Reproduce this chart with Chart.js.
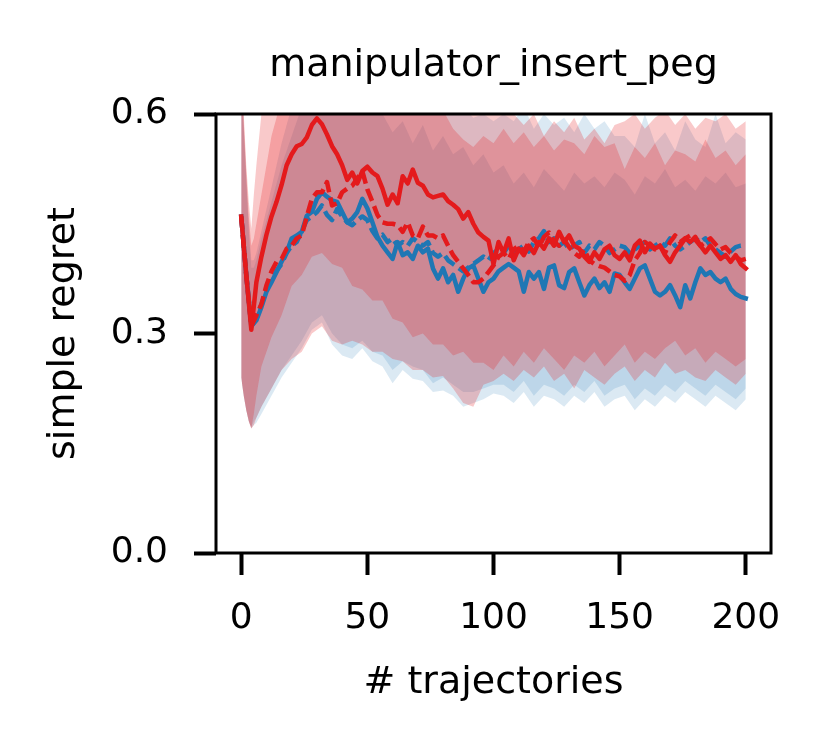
<!DOCTYPE html>
<html><head><meta charset="utf-8">
<script src="https://cdn.jsdelivr.net/npm/chart.js@4/dist/chart.umd.min.js"></script>
<style>html,body{margin:0;padding:0;background:#fff;} canvas{display:block;}</style>
</head><body>
<canvas id="c" width="830" height="747"></canvas>
<script>
// x positions of the mean curves (# trajectories)
const trajectories = [0,2,4,6,8,10,12,14,16,18,20,22,24,26,28,30,32,34,36,38,40,42,44,46,48,50,52,54,56,58,60,62,64,66,68,70,72,74,76,78,80,82,84,86,88,90,92,94,96,98,100,102,104,106,108,110,112,114,116,118,120,122,124,126,128,130,132,134,136,138,140,142,144,146,148,150,152,154,156,158,160,162,164,166,168,170,172,174,176,178,180,182,184,186,188,190,192,194,196,198,200];

const redSolid = [.46,.38,.305,.37,.405,.435,.46,.48,.503,.53,
.545,.556,.559,.568,.585,.594,.586,.572,.556,.545,
.53,.51,.52,.505,.522,.528,.52,.515,.498,.476,
.49,.478,.515,.505,.524,.506,.502,.49,.486,.488,
.49,.481,.476,.47,.457,.466,.45,.438,.432,.427,
.395,.425,.41,.43,.40,.416,.407,.42,.41,.425,
.416,.43,.42,.439,.425,.434,.42,.416,.405,.398,
.411,.402,.415,.42,.407,.402,.411,.40,.42,.427,
.411,.423,.416,.42,.407,.398,.411,.42,.43,.425,
.432,.42,.411,.42,.411,.402,.407,.398,.407,.395,
.389];

const redDashed = [.46,.38,.31,.325,.34,.366,.385,.398,.402,.416,
.42,.43,.434,.46,.484,.493,.493,.507,.475,.478,
.493,.498,.502,.512,.522,.497,.48,.462,.452,.45,
.45,.448,.439,.452,.434,.43,.446,.434,.434,.43,
.434,.42,.407,.398,.389,.38,.37,.37,.375,.384,
.393,.405,.41,.402,.415,.42,.412,.425,.43,.418,
.432,.438,.425,.42,.428,.418,.41,.405,.415,.40,
.395,.392,.39,.385,.38,.378,.372,.38,.40,.41,
.425,.42,.415,.42,.41,.425,.434,.425,.43,.434,
.428,.42,.425,.43,.422,.415,.418,.41,.405,.40,
.402];

const blueSolid = [.46,.38,.31,.318,.336,.357,.37,.384,.398,.411,
.43,.434,.439,.461,.466,.484,.493,.487,.482,.48,
.466,.452,.457,.466,.484,.471,.452,.432,.42,.411,
.402,.425,.407,.411,.402,.42,.411,.416,.389,.375,
.389,.37,.38,.357,.375,.389,.393,.375,.357,.37,
.375,.385,.39,.395,.39,.385,.357,.384,.375,.384,
.361,.39,.393,.366,.362,.384,.389,.37,.352,.366,
.375,.362,.37,.357,.382,.38,.37,.361,.375,.389,
.393,.375,.357,.352,.357,.366,.352,.336,.366,.348,
.37,.389,.38,.384,.375,.37,.375,.361,.354,.35,
.348];

const blueDashed = [.46,.38,.31,.32,.34,.36,.372,.386,.395,.41,
.42,.425,.44,.455,.46,.466,.475,.462,.455,.47,
.46,.452,.448,.455,.46,.455,.44,.43,.435,.425,
.43,.42,.425,.42,.43,.425,.42,.425,.41,.405,
.41,.40,.395,.39,.385,.39,.395,.40,.405,.40,
.41,.415,.41,.42,.41,.415,.42,.412,.425,.43,
.44,.425,.43,.42,.425,.415,.42,.425,.41,.42,
.415,.425,.42,.41,.415,.42,.418,.41,.415,.42,
.425,.415,.42,.425,.42,.43,.42,.415,.42,.425,
.43,.425,.43,.42,.415,.41,.405,.412,.418,.42,
.42];

// x positions of the shaded bands
const bandX = [0,1,2,3,4,5,6,8,12,16,20,24,28,32,36,40,44,48,52,56,60,64,68,72,76,80,84,88,92,96,100,104,108,112,116,120,124,128,132,136,140,144,148,152,156,160,164,168,172,176,180,184,188,192,196,200];

const redSolidUpper = [.70,.60,.53,.48,.443,.49,.53,.60,
.66,.68,.70,.72,.74,.75,.74,.72,.70,.70,.69,.68,.68,.67,.66,.66,.65,.65,.64,.64,.63,.63,.62,
.61,.60,.585,.60,.57,.59,.575,.595,.565,.58,.56,.585,.59,.60,.58,.595,.605,.585,.60,.58,.595,.59,.60,.58,.59];
const redSolidLower = [.24,.215,.195,.18,.17,.19,.215,.255,
.295,.325,.365,.38,.405,.41,.395,.39,.365,.36,.345,.345,.32,.315,.295,.30,.285,.285,.27,.275,.26,.26,.25,
.27,.255,.275,.26,.28,.265,.25,.27,.26,.275,.255,.27,.285,.26,.275,.265,.28,.29,.27,.28,.26,.275,.265,.255,.265];
const redDashedUpper = [.68,.59,.52,.46,.42,.43,.45,.49,
.57,.62,.65,.67,.68,.68,.67,.66,.65,.64,.64,.63,.62,.63,.61,.62,.61,.605,.58,.565,.555,.57,.56,
.58,.56,.575,.555,.57,.55,.565,.56,.545,.57,.555,.56,.525,.555,.54,.56,.53,.55,.545,.535,.565,.54,.55,.53,.545];
const redDashedLower = [.24,.215,.195,.18,.17,.175,.185,.20,
.225,.25,.265,.275,.30,.31,.29,.285,.29,.285,.275,.275,.265,.262,.25,.25,.24,.242,.225,.205,.20,.23,.235,
.245,.235,.25,.24,.255,.235,.245,.225,.25,.24,.23,.245,.255,.235,.25,.24,.26,.245,.25,.24,.235,.25,.24,.23,.245];
const blueDashedUpper = [.66,.585,.515,.45,.40,.40,.41,.44,
.50,.56,.61,.63,.65,.66,.66,.65,.64,.64,.63,.63,.62,.62,.615,.61,.61,.605,.60,.61,.595,.60,.59,
.60,.59,.61,.58,.60,.585,.595,.575,.60,.58,.59,.57,.57,.555,.60,.56,.575,.55,.59,.565,.555,.60,.56,.575,.565];
const blueDashedLower = [.24,.215,.195,.18,.172,.18,.185,.20,
.225,.25,.27,.29,.315,.325,.30,.285,.28,.29,.275,.27,.25,.262,.255,.25,.232,.24,.23,.22,.22,.225,.23,
.23,.22,.235,.215,.23,.225,.215,.23,.22,.235,.215,.225,.23,.21,.225,.215,.23,.22,.235,.225,.215,.23,.22,.21,.225];
const blueSolidUpper = [.65,.58,.51,.44,.39,.39,.40,.43,
.48,.53,.57,.61,.63,.64,.64,.63,.62,.61,.61,.60,.575,.59,.56,.585,.55,.57,.545,.555,.53,.545,.52,
.53,.505,.52,.50,.525,.51,.495,.52,.505,.515,.50,.52,.51,.49,.515,.505,.525,.50,.51,.495,.515,.505,.52,.50,.505];
const blueSolidLower = [.24,.215,.195,.18,.17,.175,.178,.19,
.215,.24,.26,.28,.305,.315,.285,.27,.265,.28,.262,.255,.232,.25,.238,.235,.22,.222,.215,.20,.205,.21,.218,
.215,.205,.22,.20,.215,.21,.20,.215,.205,.22,.20,.21,.215,.195,.21,.20,.215,.205,.22,.21,.20,.215,.205,.195,.21];

const xTicks = [0,50,100,150,200];
const yTicks = [0.0,0.3,0.6];

const FONT = "'DejaVu Sans', sans-serif";
Chart.defaults.font.family = FONT;
Chart.defaults.color = '#000';

const BLUE = '#1f77b4', RED = '#e41a1c';
const BLUE_FILL = 'rgba(31,119,180,0.16)', RED_FILL = 'rgba(228,26,28,0.234)';

function pts(xs, ys) { return xs.map((x, i) => ({x: x, y: ys[i]})); }

function band(upper, lower, color, order) {
  return [
    {data: pts(bandX, upper), fill: '+1', backgroundColor: color, borderColor: 'transparent', borderWidth: 0, pointRadius: 0, tension: 0, order: order},
    {data: pts(bandX, lower), fill: false, borderColor: 'transparent', borderWidth: 0, pointRadius: 0, tension: 0, order: order}
  ];
}
function line(ys, color, dashed, order) {
  return {data: pts(trajectories, ys), fill: false, borderColor: color, borderWidth: 4.5, pointRadius: 0, tension: 0,
          borderDash: dashed ? [13, 5.5] : [], borderCapStyle: dashed ? 'butt' : 'square', borderJoinStyle: 'round', order: order};
}

const datasets = [
  line(redDashed, RED, true, 0),
  line(redSolid, RED, false, 1),
  line(blueDashed, BLUE, true, 2),
  line(blueSolid, BLUE, false, 3),
  ...band(redDashedUpper, redDashedLower, RED_FILL, 4),
  ...band(redSolidUpper, redSolidLower, RED_FILL, 5),
  ...band(blueDashedUpper, blueDashedLower, BLUE_FILL, 6),
  ...band(blueSolidUpper, blueSolidLower, BLUE_FILL, 7)
];

const frame = {
  id: 'frame',
  afterDatasetsDraw(chart) {
    const {ctx, chartArea: a} = chart;
    ctx.save();
    ctx.strokeStyle = '#000';
    ctx.lineWidth = 3;
    ctx.strokeRect(a.left, a.top, a.right - a.left, a.bottom - a.top);
    ctx.restore();
  }
};

const gridOpts = {display: true, drawOnChartArea: false, drawTicks: true, tickLength: 22, tickWidth: 4, tickColor: '#000'};

new Chart(document.getElementById('c'), {
  type: 'line',
  data: {datasets: datasets},
  options: {
    responsive: false,
    animation: false,
    devicePixelRatio: 1,
    layout: {padding: {left: 0, right: 59, top: 0, bottom: 0}},
    plugins: {
      legend: {display: false},
      tooltip: {enabled: false},
      title: {display: true, text: 'manipulator_insert_peg', fullSize: false, color: '#000',
              font: {size: 38, weight: 'normal', family: FONT}, padding: {top: 43, bottom: 25.4}}
    },
    scales: {
      x: {
        type: 'linear', min: -10, max: 210,
        afterBuildTicks: s => { s.ticks = xTicks.map(v => ({value: v})); },
        afterFit: s => { s.height = 194; },
        ticks: {font: {size: 36}, color: '#000', padding: 22, maxRotation: 0, autoSkip: false, callback: v => String(v)},
        grid: gridOpts,
        border: {display: false},
        title: {display: true, text: '# trajectories', color: '#000', font: {size: 38}, padding: {top: 0, bottom: 41.5}}
      },
      y: {
        type: 'linear', min: 0, max: 0.6,
        afterBuildTicks: s => { s.ticks = yTicks.map(v => ({value: v})); },
        afterFit: s => { s.width = 216; },
        ticks: {font: {size: 36}, color: '#000', padding: 26, autoSkip: false, callback: v => Number(v).toFixed(1)},
        grid: gridOpts,
        border: {display: false},
        title: {display: true, text: 'simple regret', color: '#000', font: {size: 38}, padding: {top: 41, bottom: 0}}
      }
    }
  },
  plugins: [frame]
});
</script>
</body></html>
